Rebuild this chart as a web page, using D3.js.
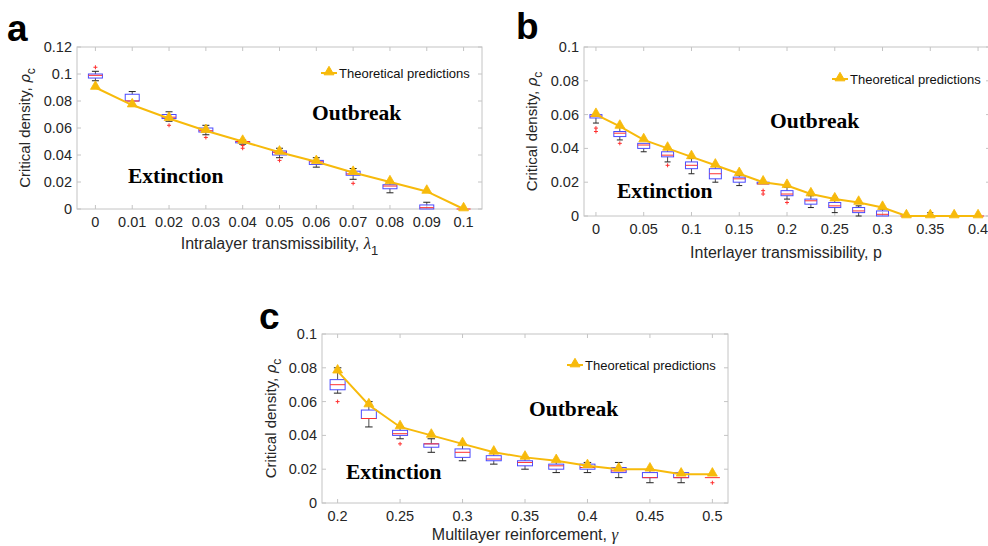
<!DOCTYPE html>
<html>
<head>
<meta charset="utf-8">
<script src="https://cdn.jsdelivr.net/npm/d3@7"></script>
<style>
  html, body { margin: 0; padding: 0; background: #fff; }
  svg { display: block; }
</style>
</head>
<body>
<svg id="fig" width="988" height="546"></svg>
<script>
// ---------- Panel a: intralayer transmissibility ----------
const aX      = [0, 0.01, 0.02, 0.03, 0.04, 0.05, 0.06, 0.07, 0.08, 0.09, 0.1];
const aTheory = [0.090, 0.077, 0.067, 0.058, 0.050, 0.042, 0.035, 0.027, 0.020, 0.013, 0.000];
const aQ1     = [0.097, 0.080, 0.067, 0.057, 0.049, 0.040, 0.033, 0.025, 0.015, 0.000, 0.000];
const aMed    = [0.099, 0.080, 0.068, 0.058, 0.050, 0.042, 0.035, 0.026, 0.017, 0.001, 0.000];
const aQ3     = [0.100, 0.085, 0.070, 0.060, 0.050, 0.043, 0.036, 0.028, 0.018, 0.003, 0.000];
const aLo     = [0.095, 0.077, 0.065, 0.055, 0.048, 0.038, 0.031, 0.022, 0.012, 0.000, 0.000];
const aHi     = [0.102, 0.087, 0.072, 0.062, 0.051, 0.045, 0.038, 0.030, 0.020, 0.005, 0.000];
const aOut    = [[0.105], [], [0.062], [0.053], [0.047, 0.045], [0.036], [], [0.019], [], [], []];
const aXTicks = [0, 0.01, 0.02, 0.03, 0.04, 0.05, 0.06, 0.07, 0.08, 0.09, 0.1];
const aXTickLabels = ["0", "0.01", "0.02", "0.03", "0.04", "0.05", "0.06", "0.07", "0.08", "0.09", "0.1"];
const aYTicks = [0, 0.02, 0.04, 0.06, 0.08, 0.1, 0.12];
const aYTickLabels = ["0", "0.02", "0.04", "0.06", "0.08", "0.1", "0.12"];

// ---------- Panel b: interlayer transmissibility ----------
const bX      = [0, 0.025, 0.05, 0.075, 0.1, 0.125, 0.15, 0.175, 0.2, 0.225, 0.25, 0.275, 0.3, 0.325, 0.35, 0.375, 0.4];
const bTheory = [0.060, 0.053, 0.045, 0.040, 0.035, 0.030, 0.025, 0.020, 0.018, 0.013, 0.010, 0.008, 0.005, 0, 0, 0, 0];
const bQ1     = [0.058, 0.047, 0.040, 0.035, 0.028, 0.022, 0.020, 0.019, 0.012, 0.007, 0.005, 0.002, 0.000, 0, 0, 0, 0];
const bMed    = [0.059, 0.049, 0.042, 0.036, 0.030, 0.025, 0.022, 0.019, 0.013, 0.009, 0.006, 0.003, 0.001, 0, 0, 0, 0];
const bQ3     = [0.060, 0.050, 0.043, 0.038, 0.032, 0.028, 0.023, 0.020, 0.015, 0.010, 0.008, 0.005, 0.003, 0, 0, 0, 0];
const bLo     = [0.055, 0.045, 0.038, 0.032, 0.025, 0.020, 0.018, 0.019, 0.010, 0.005, 0.002, 0.000, 0.000, 0, 0, 0, 0];
const bHi     = [0.060, 0.053, 0.043, 0.040, 0.034, 0.030, 0.024, 0.020, 0.017, 0.012, 0.011, 0.006, 0.004, 0, 0.002, 0, 0];
const bOut    = [[0.052, 0.050], [0.043], [], [0.030], [], [], [], [0.015, 0.013], [0.008], [], [0.012], [], [], [], [], [], []];
const bXTicks = [0, 0.05, 0.1, 0.15, 0.2, 0.25, 0.3, 0.35, 0.4];
const bXTickLabels = ["0", "0.05", "0.1", "0.15", "0.2", "0.25", "0.3", "0.35", "0.4"];
const bYTicks = [0, 0.02, 0.04, 0.06, 0.08, 0.1];
const bYTickLabels = ["0", "0.02", "0.04", "0.06", "0.08", "0.1"];

// ---------- Panel c: multilayer reinforcement ----------
const cX      = [0.2, 0.225, 0.25, 0.275, 0.3, 0.325, 0.35, 0.375, 0.4, 0.425, 0.45, 0.475, 0.5];
const cTheory = [0.078, 0.058, 0.045, 0.040, 0.035, 0.030, 0.027, 0.025, 0.022, 0.020, 0.020, 0.017, 0.017];
const cQ1     = [0.067, 0.050, 0.040, 0.033, 0.027, 0.025, 0.022, 0.020, 0.020, 0.018, 0.015, 0.015, 0.015];
const cMed    = [0.070, 0.050, 0.041, 0.035, 0.030, 0.026, 0.024, 0.022, 0.021, 0.019, 0.015, 0.015, 0.015];
const cQ3     = [0.073, 0.055, 0.043, 0.035, 0.032, 0.028, 0.025, 0.023, 0.023, 0.021, 0.018, 0.018, 0.015];
const cLo     = [0.065, 0.045, 0.038, 0.030, 0.025, 0.023, 0.020, 0.018, 0.018, 0.015, 0.012, 0.012, 0.015];
const cHi     = [0.080, 0.060, 0.045, 0.038, 0.035, 0.030, 0.027, 0.025, 0.024, 0.024, 0.020, 0.018, 0.015];
const cOut    = [[0.060], [], [0.035], [], [], [], [], [], [], [], [], [], [0.012]];
const cXTicks = [0.2, 0.25, 0.3, 0.35, 0.4, 0.45, 0.5];
const cXTickLabels = ["0.2", "0.25", "0.3", "0.35", "0.4", "0.45", "0.5"];
const cYTicks = [0, 0.02, 0.04, 0.06, 0.08, 0.1];
const cYTickLabels = ["0", "0.02", "0.04", "0.06", "0.08", "0.1"];

const legendLabel = "Theoretical predictions";

const YELLOW = "#F7BA0B";
const FRAME = "#c4c4c4";
const TEXT = "#262626";
const SANS = "Arial, 'Liberation Sans', sans-serif";
const SERIF = "'Times New Roman', 'Liberation Serif', serif";

const svg = d3.select("#fig");

function drawPanel(p) {
  const x = d3.scaleLinear().domain(p.xDomain).range([p.left, p.right]);
  const y = d3.scaleLinear().domain(p.yDomain).range([p.bottom, p.top]);
  const g = svg.append("g");

  // plot frame
  g.append("rect")
    .attr("x", p.left).attr("y", p.top)
    .attr("width", p.right - p.left).attr("height", p.bottom - p.top)
    .attr("fill", "none").attr("stroke", FRAME).attr("stroke-width", 1);

  // inward ticks on all four sides, labels on bottom and left
  const tickLen = 4;
  p.xTicks.forEach((t, i) => {
    const xx = x(t);
    g.append("line").attr("x1", xx).attr("x2", xx).attr("y1", p.bottom).attr("y2", p.bottom - tickLen).attr("stroke", FRAME);
    g.append("line").attr("x1", xx).attr("x2", xx).attr("y1", p.top).attr("y2", p.top + tickLen).attr("stroke", FRAME);
    g.append("text").attr("x", xx).attr("y", p.bottom + 18)
      .attr("text-anchor", "middle").attr("font-family", SANS).attr("font-size", 14.5)
      .attr("fill", TEXT).text(p.xTickLabels[i]);
  });
  p.yTicks.forEach((t, i) => {
    const yy = y(t);
    g.append("line").attr("x1", p.left).attr("x2", p.left + tickLen).attr("y1", yy).attr("y2", yy).attr("stroke", FRAME);
    g.append("line").attr("x1", p.right).attr("x2", p.right - tickLen).attr("y1", yy).attr("y2", yy).attr("stroke", FRAME);
    g.append("text").attr("x", p.left - 5).attr("y", yy + 5)
      .attr("text-anchor", "end").attr("font-family", SANS).attr("font-size", 14.5)
      .attr("fill", TEXT).text(p.yTickLabels[i]);
  });

  // boxplots of simulated critical densities
  const hw = p.boxW / 2, cw = p.boxW / 4;
  p.xs.forEach((v, i) => {
    const cx = x(v);
    // whiskers
    g.append("line").attr("x1", cx).attr("x2", cx).attr("y1", y(p.q3[i])).attr("y2", y(p.hi[i]))
      .attr("stroke", "#222").attr("stroke-width", 0.8);
    g.append("line").attr("x1", cx).attr("x2", cx).attr("y1", y(p.q1[i])).attr("y2", y(p.lo[i]))
      .attr("stroke", "#222").attr("stroke-width", 0.8);
    if (p.hi[i] > p.q3[i])
      g.append("line").attr("x1", cx - cw).attr("x2", cx + cw).attr("y1", y(p.hi[i])).attr("y2", y(p.hi[i]))
        .attr("stroke", "#222").attr("stroke-width", 1);
    if (p.lo[i] < p.q1[i])
      g.append("line").attr("x1", cx - cw).attr("x2", cx + cw).attr("y1", y(p.lo[i])).attr("y2", y(p.lo[i]))
        .attr("stroke", "#222").attr("stroke-width", 1);
    // box
    if (p.q3[i] > p.q1[i])
      g.append("rect").attr("x", cx - hw).attr("y", y(p.q3[i]))
        .attr("width", p.boxW).attr("height", y(p.q1[i]) - y(p.q3[i]))
        .attr("fill", "none").attr("stroke", "#4a4aff").attr("stroke-width", 1);
    // median
    g.append("line").attr("x1", cx - hw).attr("x2", cx + hw).attr("y1", y(p.med[i])).attr("y2", y(p.med[i]))
      .attr("stroke", "#ff3030").attr("stroke-width", 1);
    // outliers
    p.out[i].forEach(o => {
      const oy = y(o);
      g.append("path").attr("d", `M${cx - 2},${oy}H${cx + 2}M${cx},${oy - 2}V${oy + 2}`)
        .attr("stroke", "#ff3030").attr("stroke-width", 1);
    });
  });

  // theoretical prediction line with triangle markers
  const line = d3.line().x((d, i) => x(p.xs[i])).y(d => y(d));
  g.append("path").datum(p.theory).attr("d", line)
    .attr("fill", "none").attr("stroke", YELLOW).attr("stroke-width", 2);
  const tri = d3.symbol().type(d3.symbolTriangle).size(42);
  g.selectAll(null).data(p.theory).enter().append("path")
    .attr("d", tri)
    .attr("transform", (d, i) => `translate(${x(p.xs[i])},${y(d) - 1})`)
    .attr("fill", YELLOW).attr("stroke", YELLOW).attr("stroke-width", 0.8);

  // legend
  const lg = g.append("g");
  lg.append("line").attr("x1", p.legX).attr("x2", p.legX + 16).attr("y1", p.legY).attr("y2", p.legY)
    .attr("stroke", YELLOW).attr("stroke-width", 2);
  lg.append("path").attr("d", tri).attr("transform", `translate(${p.legX + 8},${p.legY - 1})`)
    .attr("fill", YELLOW).attr("stroke", YELLOW);
  lg.append("text").attr("x", p.legX + 18).attr("y", p.legY + 4.5)
    .attr("font-family", SANS).attr("font-size", 13).attr("fill", "#111").text(legendLabel);

  // region annotations
  g.append("text").attr("x", p.extX).attr("y", p.extY).attr("font-family", SERIF)
    .attr("font-weight", "bold").attr("font-size", 21.5).attr("fill", "#000").text("Extinction");
  g.append("text").attr("x", p.outX).attr("y", p.outY).attr("font-family", SERIF)
    .attr("font-weight", "bold").attr("font-size", 21.5).attr("fill", "#000").text("Outbreak");

  // y-axis label: Critical density, ρc
  const yl = g.append("text")
    .attr("transform", `translate(${p.yLabX},${(p.top + p.bottom) / 2}) rotate(-90)`)
    .attr("text-anchor", "middle").attr("font-family", SANS).attr("font-size", 15).attr("fill", TEXT);
  yl.append("tspan").text("Critical density, ");
  yl.append("tspan").attr("font-style", "italic").attr("font-family", "'DejaVu Sans', sans-serif").attr("font-size", 14).text("ρ");
  yl.append("tspan").attr("dy", 5).attr("font-size", 12).text("c");

  // x-axis label
  const xl = g.append("text")
    .attr("x", (p.left + Math.min(p.right, 988)) / 2 + (p.xLabShift || 0)).attr("y", p.xLabY)
    .attr("text-anchor", "middle").attr("font-family", SANS).attr("font-size", 16).attr("fill", TEXT);
  xl.append("tspan").text(p.xLabel);
  if (p.xSym) {
    xl.append("tspan").attr("font-style", "italic").attr("font-family", SERIF).attr("font-size", 17).text(p.xSym);
    if (p.xSub) xl.append("tspan").attr("dy", 6).attr("font-size", 13).text(p.xSub);
  }

  // panel letter
  svg.append("text").attr("x", p.letX).attr("y", p.letY)
    .attr("font-family", SANS).attr("font-weight", "bold").attr("font-size", 37).attr("fill", "#000").text(p.letter);
}

drawPanel({
  letter: "a", letX: 7, letY: 41,
  left: 77, right: 482, top: 47, bottom: 209,
  xDomain: [-0.005, 0.105], yDomain: [0, 0.12],
  xs: aX, theory: aTheory, q1: aQ1, med: aMed, q3: aQ3, lo: aLo, hi: aHi, out: aOut,
  xTicks: aXTicks, xTickLabels: aXTickLabels, yTicks: aYTicks, yTickLabels: aYTickLabels,
  boxW: 14, legX: 321, legY: 73,
  extX: 128, extY: 183, outX: 312, outY: 120,
  yLabX: 30, xLabY: 249, xLabel: "Intralayer transmissibility, ", xSym: "λ", xSub: "1"
});

drawPanel({
  letter: "b", letX: 516, letY: 39,
  left: 584, right: 990, top: 47, bottom: 216,
  xDomain: [-0.0125, 0.4125], yDomain: [0, 0.1],
  xs: bX, theory: bTheory, q1: bQ1, med: bMed, q3: bQ3, lo: bLo, hi: bHi, out: bOut,
  xTicks: bXTicks, xTickLabels: bXTickLabels, yTicks: bYTicks, yTickLabels: bYTickLabels,
  boxW: 12, legX: 832, legY: 79,
  extX: 617, extY: 198, outX: 770, outY: 128,
  yLabX: 537, xLabY: 258, xLabel: "Interlayer transmissibility, p"
});

drawPanel({
  letter: "c", letX: 259, letY: 329,
  left: 322, right: 728, top: 334, bottom: 503,
  xDomain: [0.1875, 0.5125], yDomain: [0, 0.1],
  xs: cX, theory: cTheory, q1: cQ1, med: cMed, q3: cQ3, lo: cLo, hi: cHi, out: cOut,
  xTicks: cXTicks, xTickLabels: cXTickLabels, yTicks: cYTicks, yTickLabels: cYTickLabels,
  boxW: 15, legX: 567, legY: 365,
  extX: 346, extY: 479, outX: 529, outY: 416,
  yLabX: 276, xLabY: 540, xLabel: "Multilayer reinforcement, ", xSym: "γ"
});
</script>
</body>
</html>
